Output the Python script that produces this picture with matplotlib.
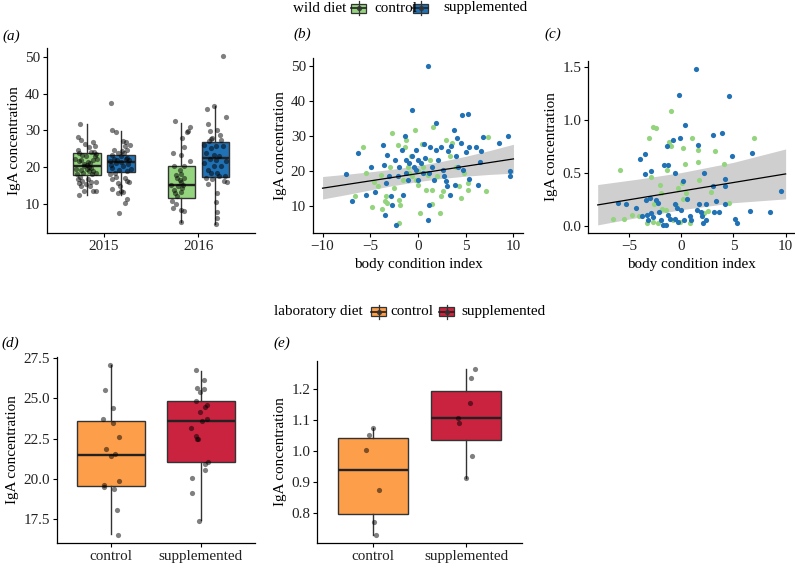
import matplotlib
matplotlib.use("Agg")
import matplotlib.pyplot as plt
import numpy as np
from matplotlib.patches import Rectangle
from matplotlib.lines import Line2D

plt.rcParams['font.family'] = ['Liberation Serif', 'DejaVu Serif']
FS = 10.9

# ---------------- colours ----------------
C_GREEN = "#95d47f"
C_BLUE = "#2171b5"
C_ORANGE = "#fd9e4a"
C_RED = "#c9233f"

# ---------------- panel (a) data ----------------
years = ["2015", "2016"]
a_ctrl15_y = [31.7, 28.3, 27.4, 26.8, 25.7, 25.4, 24.5, 23.9, 23.3, 24.2, 22.9, 22.9, 22.2, 21.8, 21.3, 22.0, 22.2,
              20.4, 20.0, 19.5, 19.1, 19.5, 18.9, 18.4, 16.7, 16.2, 16.7, 15.6, 15.3, 15.8, 14.7, 14.9, 13.5, 13.5,
              13.5, 12.3, 21.0, 18.4, 18.0, 18.0, 20.5, 19.8, 24.0, 26.2, 17.2, 23.5, 20.8, 19.0, 16.0, 21.5]
a_ctrl15_dx = [-0.07, -0.10, -0.06, 0.06, 0.08, 0.02, -0.10, -0.08, -0.05, 0.04, -0.01, 0.08, -0.13, -0.06, 0.01,
               0.06, 0.11, -0.03, 0.02, -0.12, -0.06, 0.00, 0.06, 0.09, -0.10, -0.05, 0.01, -0.08, -0.01, 0.04,
               -0.06, 0.03, -0.03, 0.06, 0.09, -0.09, 0.03, -0.04, 0.05, -0.11, 0.00, 0.04, 0.07, -0.02, -0.07,
               0.10, -0.03, 0.02, 0.10, -0.08]
a_supp15_y = [37.4, 30.0, 29.6, 27.2, 26.9, 24.7, 25.6, 24.7, 23.8, 23.4, 22.9, 22.5, 21.6, 21.2, 21.9, 20.4, 19.8,
              19.2, 18.9, 19.4, 18.0, 17.4, 17.1, 16.2, 15.8, 16.7, 15.6, 14.0, 13.5, 12.9, 13.1, 11.2, 10.3, 7.5,
              14.9, 18.4, 21.3, 23.8, 22.2, 20.8, 21.9, 22.1, 20.6, 24.3, 26.0]
a_supp15_dx = [-0.10, -0.09, -0.05, 0.02, 0.05, -0.07, 0.04, 0.07, -0.03, -0.09, 0.00, 0.06, -0.12, -0.05, 0.09,
               0.02, -0.09, -0.02, 0.06, 0.11, -0.12, -0.05, 0.04, 0.07, 0.09, -0.09, -0.03, -0.09, 0.00, -0.03,
               0.02, 0.07, 0.04, -0.02, -0.01, -0.06, 0.00, 0.03, -0.07, 0.08, -0.04, 0.05, -0.10, 0.01, 0.10]
a_ctrl16_y = [32.5, 30.9, 29.9, 29.4, 27.8, 25.5, 23.7, 23.2, 21.7, 20.2, 20.4, 19.1, 18.2, 16.9, 17.0, 15.8, 15.1,
              14.7, 14.2, 13.0, 12.0, 10.8, 9.9, 8.8, 8.4, 8.1, 5.0, 13.7, 16.4, 15.1, 17.8, 13.1]
a_ctrl16_dx = [-0.07, 0.09, 0.07, 0.06, 0.01, 0.03, -0.09, 0.00, 0.09, -0.08, 0.03, -0.02, 0.00, -0.05, 0.03, -0.01,
               -0.11, -0.04, 0.01, -0.07, -0.05, -0.10, -0.06, -0.09, 0.00, 0.03, -0.01, -0.08, -0.02, 0.02, -0.06,
               -0.01]
a_supp16_y = [50.2, 35.9, 36.5, 33.6, 31.7, 29.9, 30.1, 28.8, 27.9, 27.0, 27.4, 25.8, 26.1, 25.2, 25.7, 23.8, 23.4,
              22.9, 22.2, 21.7, 21.1, 20.4, 20.2, 19.2, 18.5, 17.6, 17.1, 16.7, 16.2, 15.8, 15.3, 17.6, 12.9, 10.5,
              7.8, 6.0, 4.4, 27.5, 22.0, 18.5]
a_supp16_dx = [0.08, -0.09, -0.01, 0.11, -0.08, -0.06, 0.02, 0.05, -0.03, -0.07, 0.06, 0.01, -0.12, -0.05, 0.08,
               -0.10, -0.01, 0.04, -0.06, 0.11, -0.12, -0.01, 0.06, -0.08, 0.02, 0.10, -0.10, -0.03, 0.09, 0.12,
               -0.08, 0.04, 0.02, 0.01, 0.02, 0.02, 0.01, -0.05, 0.01, -0.04]
# box stats: q1, median, q3, lower whisker, upper whisker
a_box_ctrl = [(17.9, 20.4, 23.7, 12.3, 31.6), (11.5, 15.0, 20.4, 5.0, 32.0)]
a_box_supp = [(18.6, 21.4, 23.4, 12.4, 29.8), (17.4, 22.5, 26.8, 4.4, 36.5)]

# ---------------- panel (b) data ----------------
b_supp_x = [-7.5, -6.9, -6.3, -5.5, -4.9, -4.5, -3.7, -3.6, -3.5, -3.3, -3.4, -3.0, -2.8, -2.7, -2.4, -2.3, -2.1,
            -2.0, -1.7, -1.6, -1.4, -1.3, -1.3, -1.1, -0.9, -0.6, -0.6, -0.4, -0.2, -0.2, 0.0, 0.05, 0.3, 0.5, 0.6,
            0.7, 1.0, 1.1, 1.0, 1.2, 1.3, 1.5, 1.7, 1.9, 1.9, 2.1, 2.4, 2.6, 2.7, 2.9, 3.0, 3.1, 3.3, 3.5, 3.8, 3.9,
            4.0, 4.1, 4.2, 4.5, 4.6, 4.7, 5.0, 5.2, 5.3, 5.3, 6.1, 6.3, 6.5, 6.6, 6.8, 8.5, 9.4, 9.6, 9.6]
b_supp_y = [19.2, 11.3, 25.2, 13.0, 21.1, 13.8, 27.5, 21.7, 7.4, 24.5, 16.6, 18.4, 12.9, 10.1, 23.1, 4.5, 18.4,
            21.2, 26.0, 13.1, 29.9, 23.1, 19.3, 17.4, 22.2, 37.3, 24.1, 21.2, 26.0, 20.2, 23.1, 17.4, 22.2, 19.3,
            27.7, 23.6, 50.0, 10.1, 6.0, 19.3, 26.9, 21.2, 17.4, 33.6, 26.0, 23.1, 26.9, 20.2, 18.4, 17.0, 15.5,
            25.7, 13.1, 27.1, 31.6, 16.0, 24.1, 29.3, 21.2, 28.0, 35.9, 20.2, 25.5, 36.4, 26.9, 17.6, 26.9, 15.9,
            22.4, 25.7, 29.8, 27.9, 29.9, 20.0, 18.5]
b_ctrl_x = [-6.6, -5.8, -5.5, -4.8, -4.6, -4.2, -3.9, -3.8, -3.5, -3.4, -3.2, -2.9, -2.7, -2.5, -2.1, -2.0, -2.0,
            -1.9, -1.6, -1.4, -1.3, -1.1, -0.9, -0.7, -0.6, -0.3, -0.2, 0.0, 0.05, 0.2, 0.4, 0.5, 0.8, 0.8, 1.0,
            1.3, 1.5, 1.5, 1.6, 2.0, 2.3, 2.4, 2.6, 2.9, 3.3, 3.6, 4.0, 4.3, 4.5, 4.8, 5.2, 5.2, 7.1, 7.3]
b_ctrl_y = [12.8, 26.9, 19.3, 9.6, 16.9, 15.5, 18.8, 8.9, 11.2, 12.7, 10.8, 21.2, 30.7, 15.1, 27.4, 11.7, 5.1,
            10.3, 17.4, 26.9, 28.8, 21.2, 19.3, 24.1, 18.4, 31.7, 17.4, 19.8, 16.0, 7.9, 27.8, 21.2, 14.6, 19.3,
            18.8, 23.1, 14.6, 10.6, 32.6, 18.4, 7.9, 12.7, 14.1, 28.8, 24.1, 27.9, 21.2, 15.5, 12.2, 19.3, 16.5,
            14.6, 14.1, 29.6]
b_fit_x = [-10, -7.5, -5, -2.5, 0, 2.5, 5, 7.5, 10]
b_fit_y = [15.0, 16.05, 17.1, 18.15, 19.2, 20.25, 21.3, 22.35, 23.4]
b_fit_lo = [11.9, 13.15, 14.5, 15.8, 16.9, 17.8, 18.45, 18.95, 19.3]
b_fit_hi = [18.35, 19.0, 19.7, 20.5, 21.5, 22.7, 24.15, 25.8, 27.6]

# ---------------- panel (c) data ----------------
c_supp_x = [-6.1, -5.3, -4.3, -3.9, -3.8, -3.5, -3.5, -3.4, -3.3, -3.2, -3.0, -2.9, -2.85, -2.7, -2.4, -2.2, -2.1,
            -1.9, -1.75, -1.65, -1.5, -1.4, -1.3, -1.3, -1.1, -0.8, -0.6, -0.6, -0.6, -0.4, -0.3, -0.2, -0.1, 0.0,
            0.2, 0.3, 0.4, 0.6, 0.8, 0.9, 1.4, 1.6, 1.5, 1.7, 1.85, 2.0, 2.05, 2.2, 2.35, 2.4, 3.0, 3.0, 3.1, 3.3,
            3.6, 3.9, 4.2, 4.2, 4.2, 4.6, 4.9, 5.2, 5.3, 6.6, 6.8, 8.5, 9.6]
c_supp_y = [0.22, 0.21, 0.17, 0.63, 0.09, 0.68, 0.49, 0.245, 0.10, 0.06, 0.26, 0.52, 0.12, 0.08, 0.245, 0.22,
            0.135, 0.056, 0.01, 0.575, 0.01, 0.75, 0.575, 0.10, 0.07, 0.81, 0.07, 0.50, 0.21, 0.17, 0.04, 1.23,
            0.83, 0.15, 0.42, 0.056, 0.95, 0.25, 0.09, 0.056, 1.48, 0.76, 0.15, 0.21, 0.135, 0.09, 0.03, 0.50,
            0.21, 0.056, 0.86, 0.375, 0.13, 0.235, 0.13, 0.88, 0.44, 0.375, 0.21, 1.22, 0.66, 0.07, 0.025, 0.14,
            0.69, 0.13, 0.33]
c_ctrl_x = [-6.5, -5.9, -5.5, -4.75, -4.0, -3.3, -3.1, -2.9, -2.75, -2.7, -2.6, -2.4, -2.2, -2.0, -1.9, -1.8, -1.5,
            -1.4, -1.2, -1.0, -1.0, -0.8, -0.5, -0.3, -0.1, 0.05, 0.15, 0.2, 0.4, 0.45, 0.8, 1.0, 1.6, 1.6, 1.7,
            2.2, 2.6, 2.9, 3.2, 4.1, 4.6, 7.0]
c_ctrl_y = [0.07, 0.53, 0.07, 0.10, 0.09, 0.025, 0.83, 0.46, 0.93, 0.04, 0.21, 0.92, 0.03, 0.385, 0.31, 0.16,
            0.15, 0.53, 0.79, 1.08, 0.75, 0.056, 0.20, 0.355, 0.04, 0.40, 0.73, 0.25, 0.58, 0.31, 0.03, 0.825,
            0.715, 0.60, 0.43, 0.12, 0.14, 0.32, 0.71, 0.58, 0.22, 0.825]
c_fit_x = [-8, -4, 0, 5, 10]
c_fit_y = [0.198, 0.263, 0.328, 0.409, 0.49]
c_fit_lo = [0.01, 0.083, 0.153, 0.219, 0.255]
c_fit_hi = [0.39, 0.443, 0.503, 0.599, 0.725]

# ---------------- panels (d), (e) data ----------------
lab_groups = ["control", "supplemented"]
d_ctrl_y = [27.05, 25.5, 24.37, 23.7, 23.5, 22.6, 21.87, 21.42, 21.54, 19.87, 19.62, 19.54, 19.38, 18.1, 16.55]
d_ctrl_dx = [-0.01, -0.06, 0.02, -0.09, 0.02, 0.09, -0.05, 0.0, 0.05, 0.09, -0.08, -0.07, 0.04, 0.07, 0.08]
d_supp_y = [26.74, 26.12, 25.66, 25.6, 25.4, 24.84, 24.57, 24.47, 24.16, 23.69, 23.58, 23.17, 22.65, 22.51, 22.45,
            21.07, 20.96, 20.59, 20.04, 19.15, 17.4]
d_supp_dx = [-0.05, 0.03, -0.04, 0.03, -0.01, -0.05, 0.07, 0.04, -0.01, 0.07, 0.01, -0.11, -0.05, -0.04, -0.03,
             0.08, 0.04, 0.04, -0.10, -0.10, -0.02]
d_box = [(19.58, 21.52, 23.6, 16.57, 27.05), (21.07, 23.58, 24.84, 17.46, 26.68)]
e_ctrl_y = [1.075, 1.053, 1.002, 0.874, 0.769, 0.728]
e_ctrl_dx = [0.0, -0.05, -0.08, 0.06, 0.01, 0.03]
e_supp_y = [1.265, 1.235, 1.156, 1.107, 1.089, 0.983, 0.911]
e_supp_dx = [0.09, 0.05, 0.04, -0.09, -0.08, 0.06, 0.0]
e_box = [(0.795, 0.938, 1.041, 0.728, 1.075), (1.036, 1.107, 1.195, 0.911, 1.264)]

# ---------------- figure ----------------
W, H = 795, 568
fig = plt.figure(figsize=(W / 100, H / 100), dpi=100)


def add_ax(left, right, top, bottom):
    return fig.add_axes([left / W, 1 - bottom / H, (right - left) / W, (bottom - top) / H])


def style(ax):
    for s in ["top", "right"]:
        ax.spines[s].set_visible(False)
    for s in ["left", "bottom"]:
        ax.spines[s].set_linewidth(0.9)
        ax.spines[s].set_color("black")
    ax.tick_params(direction="out", length=3, width=0.8, labelsize=FS, colors="black", labelcolor="#222222", pad=2)
    ax.set_ylabel("IgA concentration", fontsize=FS, labelpad=3)


def padlim(vals, frac=0.05):
    lo, hi = min(vals), max(vals)
    p = (hi - lo) * frac
    return lo - p, hi + p


def draw_boxes(ax, stats, positions, width, colors):
    bx = []
    for (q1, med, q3, wl, wh) in stats:
        bx.append(dict(q1=q1, med=med, q3=q3, whislo=wl, whishi=wh, fliers=[]))
    art = ax.bxp(bx, positions=positions, widths=width, patch_artist=True, showfliers=False, showcaps=False,
                 boxprops=dict(edgecolor="#333333", linewidth=1.0),
                 medianprops=dict(color="#222222", linewidth=1.7),
                 whiskerprops=dict(color="#333333", linewidth=1.0), manage_ticks=False)
    for patch, c in zip(art["boxes"], colors):
        patch.set_facecolor(c)
    return art


PT_S = 14

# ---- (a)
axa = add_ax(47.3, 255, 47.7, 232.7)
style(axa)
off = 0.179
bw = 0.29
pos = np.arange(1, len(years) + 1)
draw_boxes(axa, a_box_ctrl, pos - off, bw, [C_GREEN] * 2)
draw_boxes(axa, a_box_supp, pos + off, bw, [C_BLUE] * 2)
groups = [(1 - off, a_ctrl15_y, a_ctrl15_dx), (1 + off, a_supp15_y, a_supp15_dx),
          (2 - off, a_ctrl16_y, a_ctrl16_dx), (2 + off, a_supp16_y, a_supp16_dx)]
ally = []
for p, ys, dxs in groups:
    axa.scatter(np.array(dxs) + p, ys, s=PT_S, color="black", alpha=0.5, linewidths=0, zorder=5)
    ally += list(ys)
axa.set_xlim(0.4, 2.6)
axa.set_ylim(*padlim(ally))
axa.set_xticks(pos)
axa.set_xticklabels(years)
axa.set_yticks([10, 20, 30, 40, 50])

# ---- (b)
axb = add_ax(313, 523, 58.3, 232.7)
style(axb)
axb.fill_between(b_fit_x, b_fit_lo, b_fit_hi, color="#cfcfcf", linewidth=0, zorder=1)
axb.scatter(b_ctrl_x, b_ctrl_y, s=PT_S, color=C_GREEN, linewidths=0, zorder=2)
axb.scatter(b_supp_x, b_supp_y, s=PT_S, color=C_BLUE, linewidths=0, zorder=2)
axb.plot(b_fit_x, b_fit_y, color="black", linewidth=0.9, zorder=3)
axb.set_xlim(*padlim(b_fit_x + b_supp_x + b_ctrl_x))
axb.set_ylim(*padlim(b_supp_y + b_ctrl_y))
axb.set_xticks([-10, -5, 0, 5, 10])
axb.set_yticks([10, 20, 30, 40, 50])
axb.set_xlabel("body condition index", fontsize=FS, labelpad=4)

# ---- (c)
axc = add_ax(588.3, 795, 61, 232.7)
style(axc)
axc.fill_between(c_fit_x, c_fit_lo, c_fit_hi, color="#cfcfcf", linewidth=0, zorder=1)
axc.scatter(c_ctrl_x, c_ctrl_y, s=PT_S, color=C_GREEN, linewidths=0, zorder=2)
axc.scatter(c_supp_x, c_supp_y, s=PT_S, color=C_BLUE, linewidths=0, zorder=2)
axc.plot(c_fit_x, c_fit_y, color="black", linewidth=0.9, zorder=3)
axc.set_xlim(*padlim(c_fit_x + c_supp_x + c_ctrl_x))
axc.set_ylim(*padlim(c_supp_y + c_ctrl_y))
axc.set_xticks([-5, 0, 5, 10])
axc.set_yticks([0.0, 0.5, 1.0, 1.5])
axc.set_yticklabels(["0.0", "0.5", "1.0", "1.5"])
axc.set_xlabel("body condition index", fontsize=FS, labelpad=4)

# ---- (d)
axd = add_ax(56.7, 255, 356.7, 543.3)
style(axd)
lpos = np.arange(1, len(lab_groups) + 1)
draw_boxes(axd, d_box, lpos, 0.75, [C_ORANGE, C_RED])
axd.scatter(1 + np.array(d_ctrl_dx), d_ctrl_y, s=PT_S, color="black", alpha=0.5, linewidths=0, zorder=5)
axd.scatter(2 + np.array(d_supp_dx), d_supp_y, s=PT_S, color="black", alpha=0.5, linewidths=0, zorder=5)
axd.set_xlim(0.4, 2.6)
axd.set_ylim(*padlim(d_ctrl_y + d_supp_y))
axd.set_xticks(lpos)
axd.set_xticklabels(lab_groups)
axd.set_yticks([17.5, 20.0, 22.5, 25.0, 27.5])
axd.set_yticklabels(["17.5", "20.0", "22.5", "25.0", "27.5"])

# ---- (e)
axe = add_ax(317.3, 522.3, 360.7, 543.3)
style(axe)
draw_boxes(axe, e_box, lpos, 0.75, [C_ORANGE, C_RED])
axe.scatter(1 + np.array(e_ctrl_dx), e_ctrl_y, s=PT_S, color="black", alpha=0.5, linewidths=0, zorder=5)
axe.scatter(2 + np.array(e_supp_dx), e_supp_y, s=PT_S, color="black", alpha=0.5, linewidths=0, zorder=5)
axe.set_xlim(0.4, 2.6)
axe.set_ylim(*padlim(e_ctrl_y + e_supp_y + [b[4] for b in e_box]))
axe.set_xticks(lpos)
axe.set_xticklabels(lab_groups)
axe.set_yticks([0.8, 0.9, 1.0, 1.1, 1.2])
axe.set_yticklabels(["0.8", "0.9", "1.0", "1.1", "1.2"])

# ---------------- overlay: legends and panel letters ----------------
ov = fig.add_axes([0, 0, 1, 1], zorder=10)
ov.set_xlim(0, W)
ov.set_ylim(H, 0)
ov.axis("off")
ov.patch.set_alpha(0)


def key(x0, yc, color, w=15, h=9):
    ov.add_line(Line2D([x0 + w / 2, x0 + w / 2], [yc - h / 2 - 2.5, yc + h / 2 + 2.5], color="#333333", lw=0.9))
    ov.add_patch(Rectangle((x0, yc - h / 2), w, h, facecolor=color, edgecolor="#333333", lw=0.9))
    ov.add_line(Line2D([x0, x0 + w], [yc, yc], color="#222222", lw=1.2))
    ov.plot([x0 + w / 2], [yc], "o", color="#333333", ms=2.8, alpha=0.8)


yl1 = 8
ov.text(293, yl1, "wild diet", fontsize=FS, va="center", ha="left")
key(351, yl1, C_GREEN)
ov.text(374, yl1, "control", fontsize=FS, va="center", ha="left")
key(413, yl1, C_BLUE)
ov.text(443, yl1, "supplemented", fontsize=FS, va="center", ha="left")

yl2 = 311.5
ov.text(274, yl2, "laboratory diet", fontsize=FS, va="center", ha="left")
key(371, yl2, C_ORANGE)
ov.text(390, yl2, "control", fontsize=FS, va="center", ha="left")
key(439, yl2, C_RED)
ov.text(461, yl2, "supplemented", fontsize=FS, va="center", ha="left")

for lab, x, y in [("(a)", 2, 36), ("(b)", 293, 34), ("(c)", 544, 34), ("(d)", 1, 343), ("(e)", 273, 343)]:
    ov.text(x, y, lab, fontsize=FS, style="italic", va="center", ha="left")

fig.savefig("out.png", dpi=100)
